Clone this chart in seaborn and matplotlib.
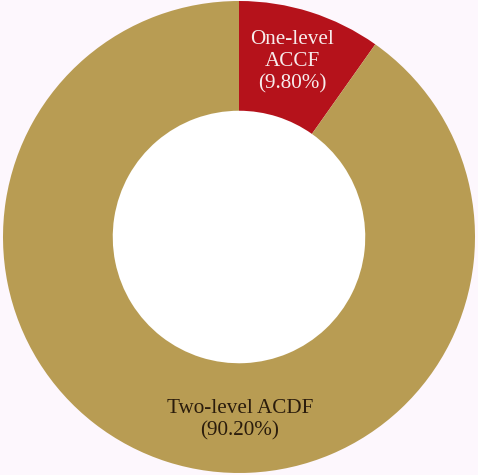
import matplotlib
matplotlib.use("Agg")
import matplotlib.pyplot as plt
import seaborn as sns

categories = ["One-level ACCF", "Two-level ACDF"]
values = [9.80, 90.20]
label_texts = ["One-level\nACCF\n(9.80%)", "Two-level ACDF\n(90.20%)"]

sns.set_theme(style="white")
plt.rcParams['font.family'] = ['Liberation Serif', 'DejaVu Serif']

bg = "#FDF7FD"
colors = ["#B5121B", "#B89C53"]

fig = plt.figure(figsize=(4.78, 4.75), dpi=100, facecolor=bg)
ax = fig.add_axes([0, 0, 1, 1])
ax.set_facecolor(bg)

wedges, _ = ax.pie(values, colors=colors, startangle=90, counterclock=False,
                   radius=1.0, wedgeprops=dict(width=0.465, linewidth=0))
hole = plt.Circle((0, 0), 0.535, color="white", zorder=0)
ax.add_patch(hole)

ax.text(0.225, 0.742, label_texts[0], ha="center", va="center",
        fontsize=15.2, color="#F7ECEC", linespacing=1.23)
ax.text(0.004, -0.775, label_texts[1], ha="center", va="center",
        fontsize=15.2, color="#2A1C0C", linespacing=1.23)

ax.set_aspect('auto')
ax.set_xlim(-239/236, 239/236)
ax.set_ylim(-238/236, 237/236)
ax.axis("off")
fig.savefig("out.png", dpi=100, facecolor=bg)
